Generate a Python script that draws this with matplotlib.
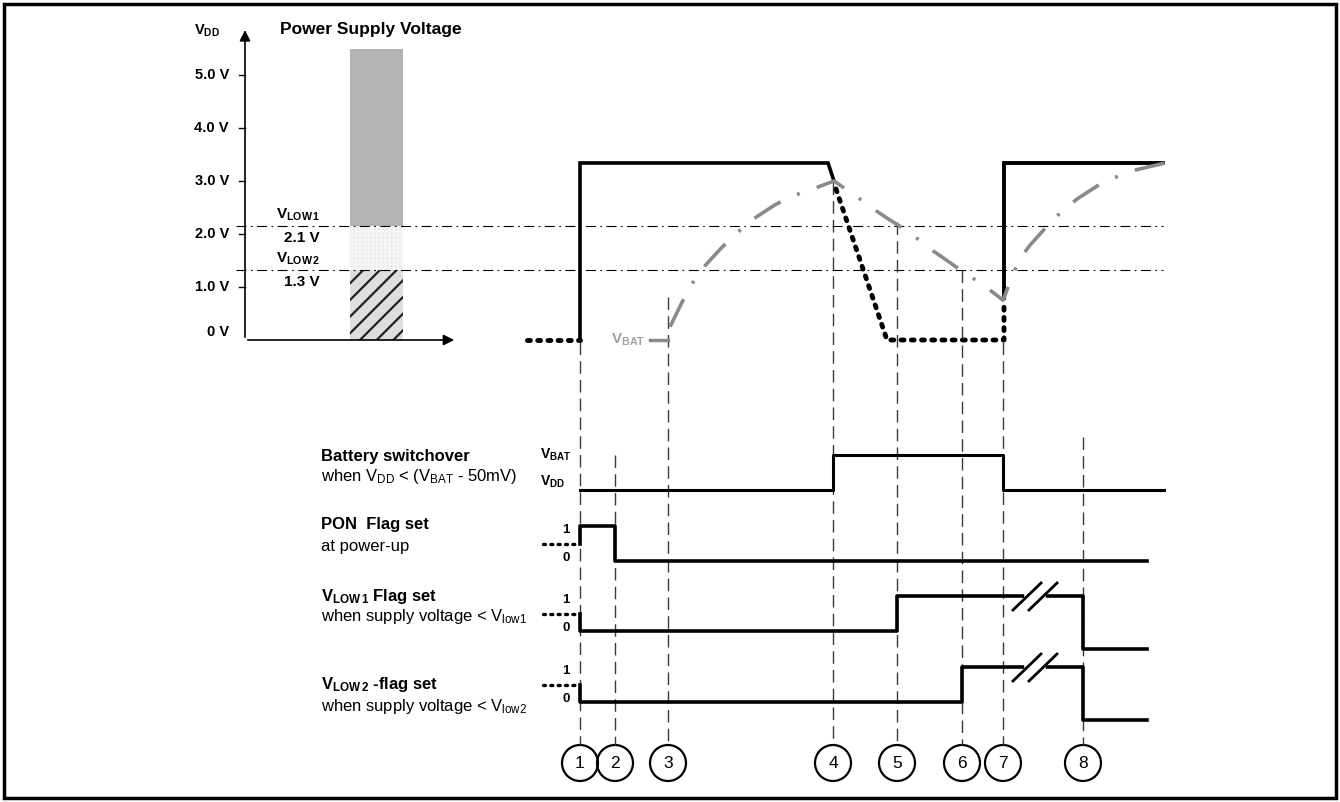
import matplotlib
matplotlib.use('Agg')
import matplotlib.pyplot as plt
from matplotlib.patches import Rectangle, Circle

plt.rcParams['font.family'] = ['Liberation Sans', 'DejaVu Sans']
plt.rcParams['mathtext.fontset'] = 'custom'
plt.rcParams['mathtext.rm'] = 'Liberation Sans'
plt.rcParams['mathtext.it'] = 'Liberation Sans:italic'
plt.rcParams['mathtext.bf'] = 'Liberation Sans:bold'
plt.rcParams['hatch.linewidth'] = 1.6

# ---- data ----
volt_ticks = [0, 1, 2, 3, 4, 5]
volt_labels = ['0 V', '1.0 V', '2.0 V', '3.0 V', '4.0 V', '5.0 V']
vlow1 = 2.16   # drawn position of V_LOW1 (labelled 2.1 V)
vlow2 = 1.33   # drawn position of V_LOW2 (labelled 1.3 V)
bar_top = 5.49

# event times (x on the time axis)
events = [580, 615, 668, 833, 897, 962, 1003, 1083]
event_names = ['1', '2', '3', '4', '5', '6', '7', '8']

# V_DD (volts)
vdd_off_t = [527, 580]
vdd_off_v = [0, 0]
vdd_on_t = [580, 580, 828, 834]
vdd_on_v = [0, 3.34, 3.34, 3.0]
vdd_fall_t = [836, 887, 1004, 1004]
vdd_fall_v = [2.85, 0, 0, 0.75]
vdd_back_t = [1004, 1004, 1163]
vdd_back_v = [0.8, 3.34, 3.34]

# V_BAT (volts)
vbat_flat_t = [650, 668]
vbat_t = [670, 683, 692, 702, 722, 735, 749, 775, 790, 807, 834, 857, 872, 887,
          912, 926, 941, 965, 980, 995, 1003, 1012, 1019, 1030, 1050, 1062,
          1077, 1100, 1118, 1136, 1165]
vbat_v = [0.25, 0.75, 1.06, 1.34, 1.75, 1.98, 2.23, 2.55, 2.70, 2.81, 3.00,
          2.70, 2.49, 2.30, 2.00, 1.77, 1.58, 1.26, 1.08, 0.87, 0.75, 1.19,
          1.51, 1.79, 2.21, 2.43, 2.66, 2.94, 3.09, 3.21, 3.34]

# logic traces (step 'post'), 0.5 = undefined start
bat_t = [580, 833, 1003, 1164]
bat_s = [0, 1, 0, 0]
pon_t = [580, 580, 615, 1147]
pon_s = [0.5, 1, 0, 0]
low1_t = [580, 580, 897, 1083, 1147]
low1_s = [0.5, 0, 1, -0.5, -0.5]
low2_t = [580, 580, 962, 1083, 1147]
low2_s = [0.5, 0, 1, -0.5, -0.5]

# ---- layout ----
W, H = 1340, 802
PX0, PXV = 340, 53          # pixel row of 0 V, pixels per volt
V_LO, V_HI = -0.5, 6.3
UNIT = 35                   # logic level height in px
row_base = {'bat': 490, 'pon': 561, 'low1': 631, 'low2': 702}
event_top = [342, 455, 297, 182, 222, 270, 342, 437]
circ_y, circ_r = 763, 18

fig = plt.figure(figsize=(W / 100, H / 100), dpi=100)
ax = fig.add_axes([0, 0, 1, 1])
ax.set_xlim(0, W)
ax.set_ylim(H, 0)
ax.axis('off')

top_px = PX0 - PXV * V_HI
bot_px = PX0 - PXV * V_LO
axv = fig.add_axes([0, 1 - bot_px / H, 1, (bot_px - top_px) / H])
axv.set_xlim(0, W)
axv.set_ylim(V_LO, V_HI)
axv.axis('off')

# frame
ax.add_patch(Rectangle((4, 4), W - 8, H - 8, fill=False, lw=2.5, ec='black'))

# ---- top-left voltage scale ----
ax_x = 245
axv.annotate('', xy=(ax_x, 5.9), xytext=(ax_x, 0),
             arrowprops=dict(arrowstyle='-|>', lw=1.2, color='black', mutation_scale=16))
axv.annotate('', xy=(457, 0), xytext=(ax_x, 0),
             arrowprops=dict(arrowstyle='-|>', lw=1.2, color='black', mutation_scale=16))
for v, lab in zip(volt_ticks, volt_labels):
    if v > 0:
        axv.plot([ax_x - 6, ax_x], [v, v], color='black', lw=1)
    axv.text(229, v + (0.15 if v == 0 else 0), lab, ha='right', va='center',
             fontsize=10.5, fontweight='bold')
axv.text(207, 5.83, r'V$_{\mathbf{DD}}$', ha='center', va='center',
         fontsize=10.5, fontweight='bold')
axv.text(371, 5.85, 'Power Supply Voltage', ha='center', va='center',
         fontsize=12.5, fontweight='bold')

# bar
bx0, bw = 350, 53
axv.add_patch(Rectangle((bx0, vlow1), bw, bar_top - vlow1, fc='#b3b3b3', lw=0))
axv.add_patch(Rectangle((bx0, vlow2), bw, vlow1 - vlow2, fc='#e8e8e8',
                        ec='#f6f6f6', hatch='++++', lw=0))
axv.add_patch(Rectangle((bx0, 0), bw, vlow2, fc='#dedede', ec='#222222',
                        hatch='//', lw=0))

# thresholds
for v in (vlow1, vlow2):
    axv.plot([236, 1163], [v, v], color='black', lw=0.8,
             linestyle=(0, (9, 4, 1.5, 4)))
axv.text(320, vlow1 + 0.2, r'V$_{\mathbf{LOW\,1}}$', ha='right', va='center',
         fontsize=11, fontweight='bold')
axv.text(320, vlow1 - 0.24, '2.1 V', ha='right', va='center',
         fontsize=11, fontweight='bold')
axv.text(320, vlow2 + 0.2, r'V$_{\mathbf{LOW\,2}}$', ha='right', va='center',
         fontsize=11, fontweight='bold')
axv.text(320, vlow2 - 0.24, '1.3 V', ha='right', va='center',
         fontsize=11, fontweight='bold')

# V_DD trace
dots = dict(color='black', lw=3.5, linestyle=(0, (0.6, 1.5)),
            dash_capstyle='round')
axv.plot(vdd_off_t, vdd_off_v, **dots)
axv.plot(vdd_fall_t, vdd_fall_v, **dots)
axv.plot(vdd_on_t, vdd_on_v, color='black', lw=2.6, solid_joinstyle='miter')
axv.plot(vdd_back_t, vdd_back_v, color='black', lw=2.8, solid_joinstyle='miter')

# V_BAT trace
gray = '#8a8a8a'
axv.plot(vbat_flat_t, [0, 0], color=gray, lw=2.5)
axv.plot(vbat_t, vbat_v, color=gray, lw=2.6, linestyle=(0, (8.5, 5, 0.8, 5)))
axv.text(628, 0.0, r'V$_{\mathbf{BAT}}$', ha='center', va='center',
         fontsize=11, fontweight='bold', color='#a0a0a0')

# ---- event markers ----
for t, top, name in zip(events, event_top, event_names):
    ax.plot([t, t], [top, circ_y - circ_r], color='#3a3a3a', lw=1,
            linestyle=(0, (9, 4.5)))
    ax.add_patch(Circle((t, circ_y), circ_r, fill=False, ec='black', lw=1.6))
    ax.text(t, circ_y + 1, name, ha='center', va='center', fontsize=12.5)


# ---- logic traces ----
def level(row, s):
    return [row_base[row] - UNIT * v for v in s]


ax.step(bat_t, level('bat', bat_s), where='post', color='black', lw=2.2)
for row, tt, ss in (('pon', pon_t, pon_s), ('low1', low1_t, low1_s),
                    ('low2', low2_t, low2_s)):
    ax.step(tt, level(row, ss), where='post', color='black', lw=2.6)
    ax.plot([543, 578], level(row, [0.5, 0.5]), color='black', lw=2.4,
            linestyle=(0, (0.6, 1.6)), dash_capstyle='round')
    ax.text(566, row_base[row] - 31, '1', ha='center', va='center',
            fontsize=9.5, fontweight='bold')
    ax.text(566, row_base[row] - 3, '0', ha='center', va='center',
            fontsize=9.5, fontweight='bold')

# break marks
for row in ('low1', 'low2'):
    y1 = row_base[row] - UNIT
    ax.plot([1027, 1043], [y1, y1], color='white', lw=4)
    for dx in (0, 16):
        ax.plot([1013 + dx, 1041 + dx], [y1 + 14, y1 - 13], color='black', lw=2)

ax.text(540, 455, r'V$_{\mathbf{BAT}}$', ha='left', va='center',
        fontsize=10, fontweight='bold')
ax.text(540, 482, r'V$_{\mathbf{DD}}$', ha='left', va='center',
        fontsize=10, fontweight='bold')

# row labels
lx = 321
fs = 12
ax.text(lx, 456, 'Battery switchover', fontsize=fs, fontweight='bold', va='center')
ax.text(lx, 477, r'when V$_{\mathrm{DD}}$ < (V$_{\mathrm{BAT}}$ - 50mV)', fontsize=fs, va='center')
ax.text(lx, 525, 'PON  Flag set', fontsize=fs, fontweight='bold', va='center')
ax.text(lx, 547, 'at power-up', fontsize=fs, va='center')
ax.text(lx, 596, r'V$_{\mathbf{LOW\,1}}$ Flag set', fontsize=fs, fontweight='bold', va='center')
ax.text(lx, 617, r'when supply voltage < V$_{\mathrm{low1}}$', fontsize=fs, va='center')
ax.text(lx, 685, r'V$_{\mathbf{LOW\,2}}$ -flag set', fontsize=fs, fontweight='bold', va='center')
ax.text(lx, 706, r'when supply voltage < V$_{\mathrm{low2}}$', fontsize=fs, va='center')

fig.savefig('out.png', dpi=100)
